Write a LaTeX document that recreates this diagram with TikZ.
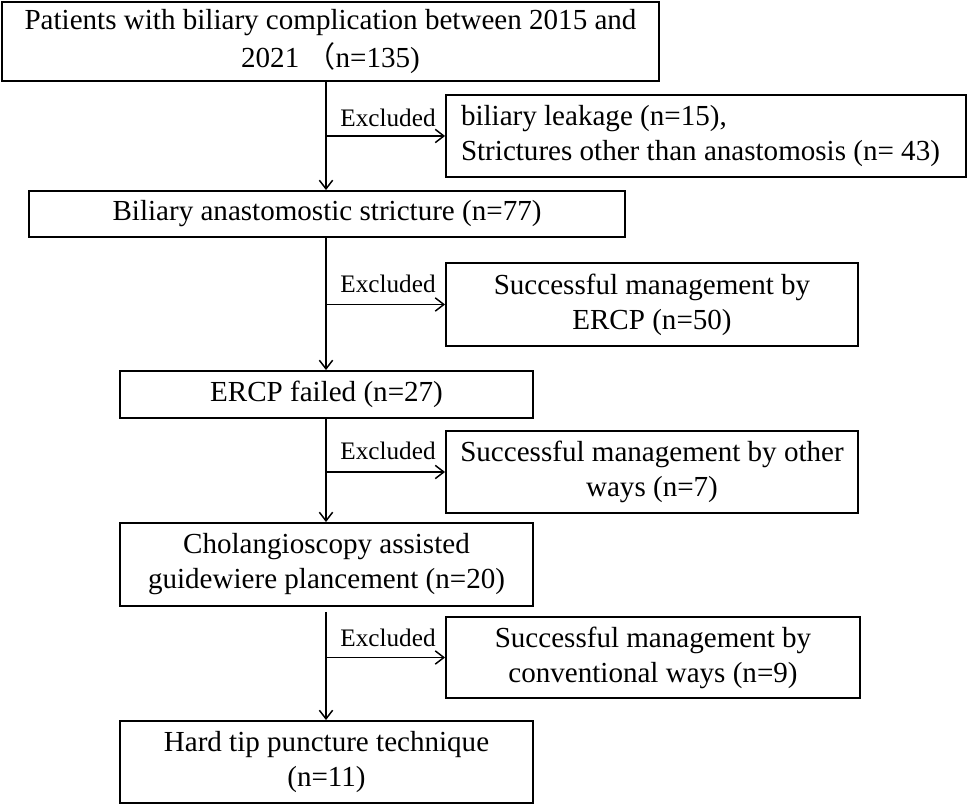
\documentclass[tikz,border=0pt]{standalone}
\usepackage{fontspec}
\setmainfont{Liberation Serif}
\newfontfamily\cjkfont{Noto Sans CJK SC}
\usetikzlibrary{arrows.meta}
\begin{document}
\begin{tikzpicture}[x=0.75pt,y=-0.75pt,
  box/.style={draw, line width=1.4pt, inner sep=0pt, font=\fontsize{21.8}{26.25}\selectfont, align=center},
  arr/.style={draw, line width=1.1pt, -{Straight Barb[length=6.5pt,width=10pt,line width=1.1pt]}},
  exlab/.style={font=\fontsize{18.9}{22}\selectfont, inner sep=0pt}]
\useasboundingbox (0,0) rectangle (968,805);
\coordinate (tx) at (326,0);
\node[box, minimum width=492.75pt, minimum height=59.25pt, font=\fontsize{21.8}{28.5}\selectfont] (b1) at (330.5,41.5)
  {Patients with biliary complication between 2015 and\\2021 {\cjkfont （}n=135)};
\node[box, text width=367.5pt, inner xsep=11.25pt, minimum height=61.5pt, align=flush left] (ex1) at (706,136)
  {biliary leakage (n=15),\\Strictures other than anastomosis (n= 43)};
\node[box, minimum width=447pt, minimum height=34.5pt] (b2) at (327,214)
  {Biliary anastomostic stricture (n=77)};
\node[box, minimum width=309pt, minimum height=62.25pt] (ex2) at (652,304.5)
  {Successful management by\\ERCP (n=50)};
\node[box, minimum width=309.75pt, minimum height=35.25pt] (b3) at (326.5,394.5)
  {ERCP failed (n=27)};
\node[box, minimum width=309pt, minimum height=61.5pt] (ex3) at (652,472)
  {Successful management by other\\ways (n=7)};
\node[box, minimum width=309.75pt, minimum height=62.25pt] (b4) at (326.5,564.5)
  {Cholangioscopy assisted\\guidewiere plancement (n=20)};
\node[box, minimum width=310.5pt, minimum height=60.75pt] (ex4) at (653,657.5)
  {Successful management by\\conventional ways (n=9)};
\node[box, minimum width=309.75pt, minimum height=61.5pt] (b5) at (326.5,762)
  {Hard tip puncture technique\\(n=11)};
% trunk
\draw[arr] (b1.south -| tx) -- (b2.north -| tx);
\draw[arr] (b2.south -| tx) -- (b3.north -| tx);
\draw[arr] (b3.south -| tx) -- (b4.north -| tx);
\draw[arr, shorten <=3.75pt] (b4.south -| tx) -- (b5.north -| tx);
% branches
\draw[arr] (ex1.west -| tx) -- (ex1.west);
\draw[arr] (ex2.west -| tx) -- (ex2.west);
\draw[arr] (ex3.west -| tx) -- (ex3.west);
\draw[arr] (ex4.west -| tx) -- (ex4.west);
% labels
\node[exlab] (l1) at (388,118) {Excluded};
\node[exlab] (l2) at (388,284) {Excluded};
\node[exlab] (l3) at (388,451) {Excluded};
\node[exlab] (l4) at (388,638) {Excluded};
\end{tikzpicture}
\end{document}
